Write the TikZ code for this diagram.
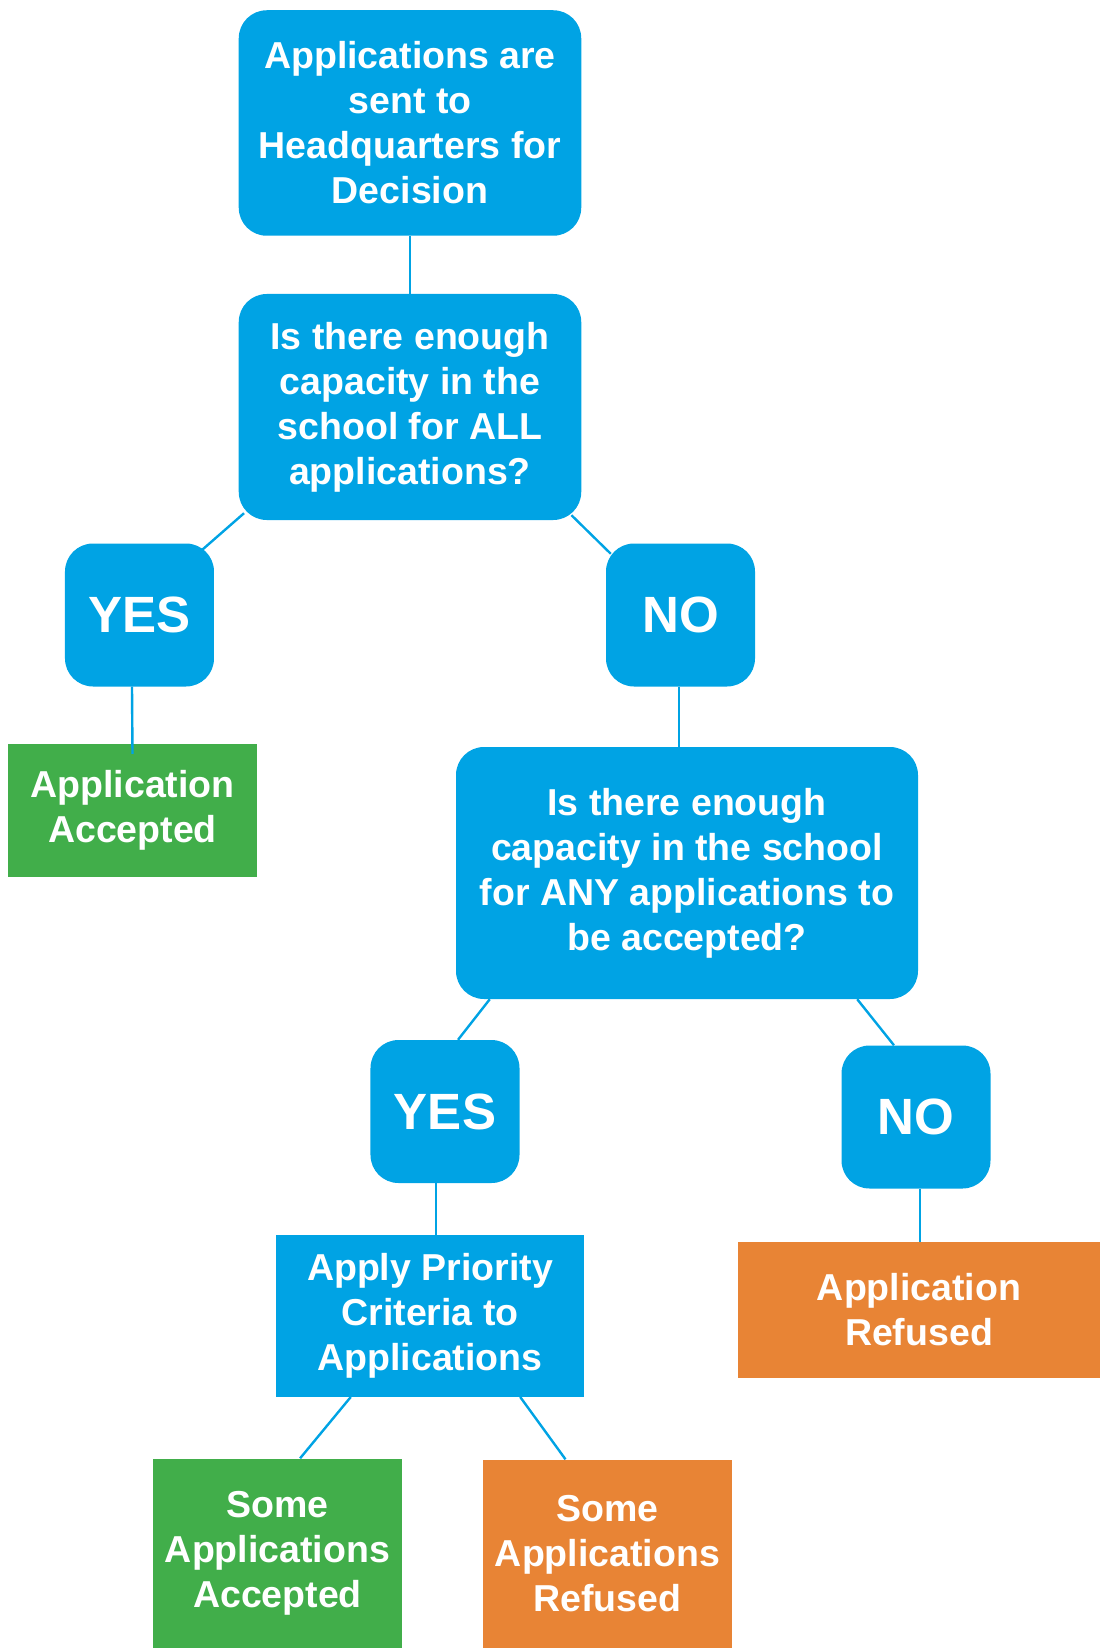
\documentclass[tikz,border=0pt]{standalone}
\usepackage{fontspec}
\setmainfont{Liberation Sans}

\definecolor{hqblue}{RGB}{0,163,228}
\definecolor{okgreen}{RGB}{65,174,74}
\definecolor{refusedorange}{RGB}{232,132,53}

\begin{document}
\begin{tikzpicture}[level 1/.style={level distance=284pt},level 2/.style={sibling distance=541pt, level distance=208pt},level 3/.style={level distance=258pt},level 4/.style={sibling distance=471pt, level distance=238.5pt},level 5/.style={level distance=204.5pt},level 6/.style={sibling distance=330pt, level distance=237.5pt},
every node/.style={font=\bfseries\fontsize{37.5}{45}\selectfont, text=white, align=center, inner sep=0pt},
edge from parent/.style={draw=hqblue, line width=2.4pt},
bluebox/.style={fill=hqblue, rounded corners=28pt},
choice/.style={fill=hqblue, rounded corners=28pt, minimum width=149pt, minimum height=143pt, font=\bfseries\fontsize{51}{60}\selectfont},
accepted/.style={fill=okgreen},
refused/.style={fill=refusedorange}]
\useasboundingbox (-410pt,123pt) rectangle (690pt,-1525pt);
\node[bluebox, minimum width=342.5pt, minimum height=225.5pt] (hq) {Applications are\\sent to\\Headquarters for\\Decision}
child{ node [bluebox, minimum width=342.5pt, minimum height=226pt] (all) {Is there enough\\capacity in the\\school for ALL\\applications?}
   child[edge from parent path={([shift={(5.5pt,7pt)}]\tikzparentnode.south west) -- ([shift={(-12pt,-6.5pt)}]\tikzchildnode.north east)}]{ node [choice] (yes1) {YES}
      child[edge from parent path={([xshift=-7.5pt]\tikzparentnode.south) -- ([yshift=-10pt]\tikzchildnode.north)}]{ node [accepted, minimum width=248.6pt, minimum height=133pt, xshift=-7pt, yshift=62.5pt] (acc) {Application\\Accepted} }
   }
   child[edge from parent path={([shift={(-10pt,5pt)}]\tikzparentnode.south east) -- ([shift={(5pt,-10.5pt)}]\tikzchildnode.north west)}]{ node [choice] (no1) {NO}
      child[edge from parent path={([xshift=-1.5pt]\tikzparentnode.south) -- ([xshift=-8pt]\tikzchildnode.north)}]{ node [bluebox, minimum width=462pt, minimum height=252pt, xshift=6.5pt] (any) {Is there enough\\capacity in the school\\for ANY applications to\\be accepted?}
         child[edge from parent path={([xshift=34pt]\tikzparentnode.south west) -- ([xshift=13pt]\tikzchildnode.north)}]{ node [choice, xshift=-6.5pt] (yes2) {YES}
            child[edge from parent path={([xshift=-9pt]\tikzparentnode.south) -- ([xshift=6pt]\tikzchildnode.north)}]{ node [bluebox, sharp corners, minimum width=308pt, minimum height=161.5pt, xshift=-15pt] (prio) {Apply Priority\\Criteria to\\Applications}
               child[edge from parent path={([xshift=75pt]\tikzparentnode.south west) -- ([xshift=22.6pt]\tikzchildnode.north)}]{ node [accepted, minimum width=249pt, minimum height=190pt, xshift=12.5pt] (someacc) {Some\\Applications\\Accepted} }
               child[edge from parent path={([xshift=-64pt]\tikzparentnode.south east) -- ([xshift=-42pt]\tikzchildnode.north)}]{ node [refused, minimum width=249pt, minimum height=188pt, xshift=12.5pt] (someref) {Some\\Applications\\Refused} }
            }
         }
         child[edge from parent path={([xshift=-61pt]\tikzparentnode.south east) -- ([xshift=-22pt]\tikzchildnode.north)}]{ node [choice, xshift=-6.5pt, yshift=-5.5pt] (no2) {NO}
            child[edge from parent path={([xshift=4pt]\tikzparentnode.south) -- ([xshift=1pt]\tikzchildnode.north)}]{ node [refused, minimum width=361.5pt, minimum height=136pt, xshift=3pt, yshift=11.5pt] (ref) {Application\\Refused} }
         }
      }
   }
};
\end{tikzpicture}
\end{document}
